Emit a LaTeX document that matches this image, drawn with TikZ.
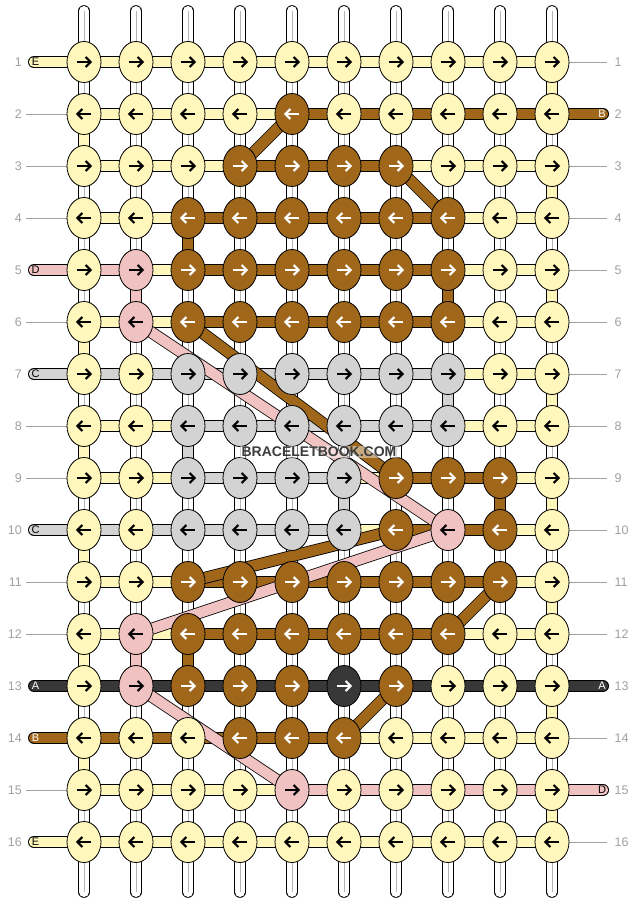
\documentclass[tikz,border=0pt]{standalone}
\usepackage{fontspec}
\setmainfont{Liberation Sans}
\usetikzlibrary{shapes.geometric}
\definecolor{cY}{RGB}{255,247,188}
\definecolor{cB}{RGB}{160,103,26}
\definecolor{cP}{RGB}{240,194,194}
\definecolor{cG}{RGB}{211,211,211}
\definecolor{cD}{RGB}{56,56,56}
\colorlet{aY}{black}\colorlet{aB}{white}\colorlet{aP}{black}\colorlet{aG}{black}\colorlet{aD}{white}
\definecolor{lblgrey}{RGB}{160,160,160}
\definecolor{warpgrey}{RGB}{180,180,180}
\definecolor{wmgrey}{RGB}{60,60,60}
\begin{document}
\begin{tikzpicture}[x=1pt,y=-1pt,
  knot/.style={ellipse,draw=black,line width=0.8pt,minimum width=34pt,minimum height=41pt,inner sep=0pt},
  thread/.style={draw=black,double=#1,double distance=10.4pt,line width=0.8pt},
  edgethread/.style={thread=#1,line cap=round},
  warpline/.style={draw=black,double=white,double distance=10pt,line width=0.8pt,line cap=round},
  warpmid/.style={draw=warpgrey,line width=0.7pt},
  lblline/.style={draw=lblgrey,line width=0.8pt},
  rownum/.style={text=lblgrey,font=\fontsize{12.5}{13}\selectfont,inner sep=0pt},
  strletter/.style={font=\fontsize{11}{11}\selectfont,inner sep=0pt},
  arrowmark/.style={line width=2.2pt,line join=miter}
]
\useasboundingbox (0,0) rectangle (636,904);

% knot centre coordinates
\foreach \r in {1,...,16}{
  \foreach \c in {1,...,10}{
    \coordinate (p-\r-\c) at ({84+52*(\c-1)},{62+52*(\r-1)});
  }
}

% warp strands
\foreach \c in {1,...,10}{
  \coordinate (wt-\c) at ({84+52*(\c-1)},11);
  \coordinate (wb-\c) at ({84+52*(\c-1)},892);
  \draw[warpline] (wt-\c) -- (wb-\c);
  \draw[warpmid] (wt-\c) -- (wb-\c);
}

% row label lines
\foreach \r in {2,3,4,6,8,9,11,12,15}{
  \coordinate (ll-\r) at (26,{62+52*(\r-1)});
  \draw[lblline] (ll-\r) -- (p-\r-1);
}
\foreach \r in {1,3,4,5,6,7,8,9,10,11,12,14,16}{
  \coordinate (rl-\r) at (607,{62+52*(\r-1)});
  \draw[lblline] (p-\r-10) -- (rl-\r);
}

% edge strings
\foreach \r/\k in {1/Y,5/P,7/G,10/G,13/D,14/B,16/Y}{
  \coordinate (le-\r) at (34,{62+52*(\r-1)});
  \draw[edgethread=c\k] (le-\r) -- (p-\r-1);
}
\foreach \r/\k in {2/B,13/D,15/P}{
  \coordinate (re-\r) at (603,{62+52*(\r-1)});
  \draw[edgethread=c\k] (p-\r-10) -- (re-\r);
}

% horizontal strings between knots
\foreach \r/\hs in {
  1/{Y,Y,Y,Y,Y,Y,Y,Y,Y},
  2/{Y,Y,Y,Y,B,B,B,B,B},
  3/{Y,Y,Y,B,B,B,Y,Y,Y},
  4/{Y,Y,B,B,B,B,B,Y,Y},
  5/{P,Y,B,B,B,B,B,Y,Y},
  6/{Y,Y,B,B,B,B,B,Y,Y},
  7/{G,G,G,G,G,G,G,Y,Y},
  8/{Y,Y,G,G,G,G,G,Y,Y},
  9/{Y,Y,G,G,G,Y,B,B,Y},
  10/{G,G,G,G,G,Y,B,B,Y},
  11/{Y,Y,B,B,B,B,B,B,Y},
  12/{Y,Y,B,B,B,B,B,Y,Y},
  13/{D,D,D,D,D,D,D,D,D},
  14/{B,B,B,B,B,Y,Y,Y,Y},
  15/{Y,Y,Y,Y,P,P,P,P,P},
  16/{Y,Y,Y,Y,Y,Y,Y,Y,Y}}{
  \foreach \h [count=\i] in \hs {
    \pgfmathtruncatemacro\j{\i+1}
    \draw[thread=c\h] (p-\r-\i) -- (p-\r-\j);
  }
}

% vertical coloured segments
\foreach \r/\c/\k in {1/10/Y,2/1/Y,3/10/Y,4/3/B,5/2/P,5/8/B,5/10/Y,6/1/Y,7/8/G,7/10/Y,
  8/1/Y,8/3/G,9/6/G,9/9/B,9/10/Y,10/1/Y,11/10/Y,12/1/Y,12/2/P,12/3/B,13/10/Y,14/1/Y,15/10/Y}{
  \pgfmathtruncatemacro\rn{\r+1}
  \draw[thread=c\k] (p-\r-\c) -- (p-\rn-\c);
}

% diagonal strings
\foreach \ra/\ca/\rb/\cb/\k in {2/5/3/4/B,3/7/4/8/B,6/3/9/7/B,6/2/10/8/P,10/7/11/3/B,
  10/8/12/2/P,11/9/12/8/B,13/2/15/5/P,13/7/14/6/B}{
  \draw[thread=c\k] (p-\ra-\ca) -- (p-\rb-\cb);
}

% knots with arrows
\foreach \r/\ks in {
  1/{Y,Y,Y,Y,Y,Y,Y,Y,Y,Y},
  2/{Y,Y,Y,Y,B,Y,Y,Y,Y,Y},
  3/{Y,Y,Y,B,B,B,B,Y,Y,Y},
  4/{Y,Y,B,B,B,B,B,B,Y,Y},
  5/{Y,P,B,B,B,B,B,B,Y,Y},
  6/{Y,P,B,B,B,B,B,B,Y,Y},
  7/{Y,Y,G,G,G,G,G,G,Y,Y},
  8/{Y,Y,G,G,G,G,G,G,Y,Y},
  9/{Y,Y,G,G,G,G,B,B,B,Y},
  10/{Y,Y,G,G,G,G,B,P,B,Y},
  11/{Y,Y,B,B,B,B,B,B,B,Y},
  12/{Y,P,B,B,B,B,B,B,Y,Y},
  13/{Y,P,B,B,B,D,B,Y,Y,Y},
  14/{Y,Y,Y,B,B,B,Y,Y,Y,Y},
  15/{Y,Y,Y,Y,P,Y,Y,Y,Y,Y},
  16/{Y,Y,Y,Y,Y,Y,Y,Y,Y,Y}}{
  \pgfmathsetmacro\d{ifthenelse(mod(\r,2)==1,1,-1)}
  \foreach \k [count=\c] in \ks {
    \node[knot,fill=c\k] (k-\r-\c) at (p-\r-\c) {};
    \begin{scope}[shift={(k-\r-\c.center)},xscale=\d]
      \draw[arrowmark,draw=a\k] (-7,0) -- (6.5,0);
      \draw[arrowmark,draw=a\k] (1.6,-5) -- (6.6,0) -- (1.6,5);
    \end{scope}
  }
}

% string letters
\foreach \r/\lab/\lcol in {1/E/black,5/D/black,7/C/black,10/C/black,13/A/white,14/B/white,16/E/black}{
  \node[strletter,text=\lcol] (lt-\r) at (35.5,{62+52*(\r-1)}) {\lab};
}
\foreach \r/\lab/\lcol in {2/B/white,13/A/white,15/D/black}{
  \node[strletter,text=\lcol] (rt-\r) at (602,{62+52*(\r-1)}) {\lab};
}

% row numbers
\foreach \r in {1,...,16}{
  \node[rownum,anchor=east] (nl-\r) at (22,{62+52*(\r-1)}) {\r};
  \node[rownum,anchor=west] (nr-\r) at (614.5,{62+52*(\r-1)}) {\r};
}

% watermark
\node[font=\bfseries\fontsize{14}{14}\selectfont,text=wmgrey,fill=white,fill opacity=0.45,text opacity=1,inner sep=1.2pt] (wm) at (319,452) {BRACELETBOOK.COM};
\end{tikzpicture}
\end{document}
